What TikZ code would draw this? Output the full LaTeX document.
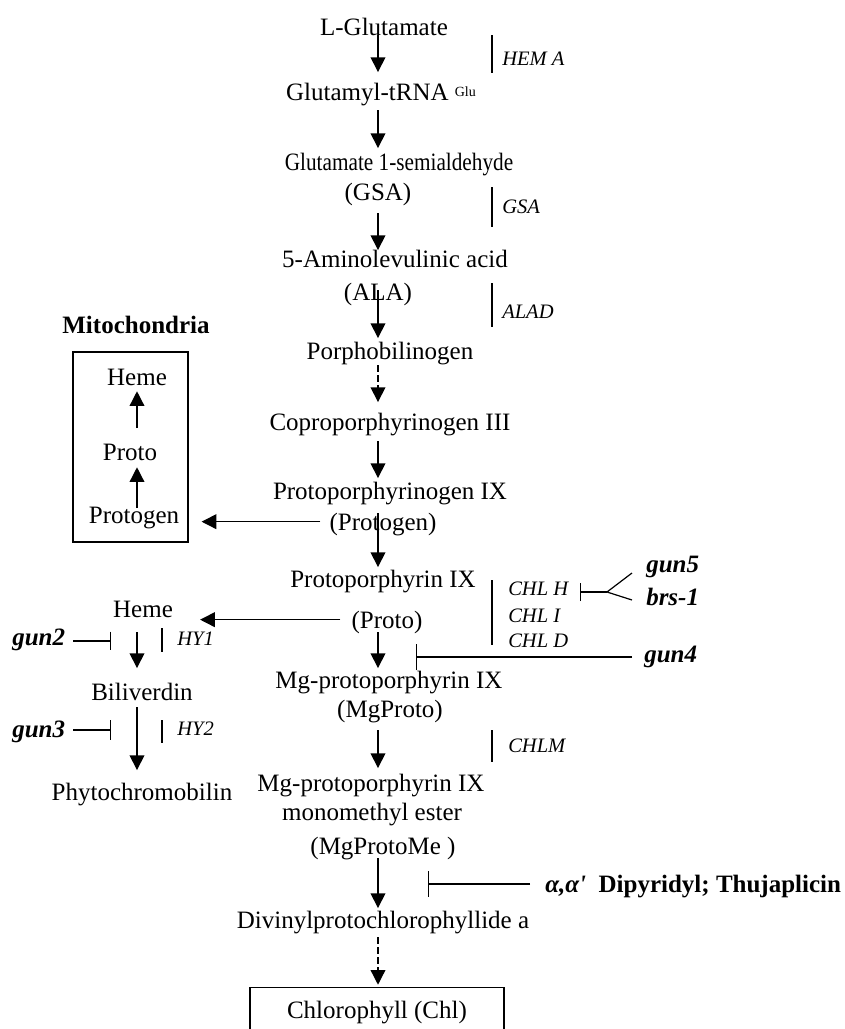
\documentclass[tikz,border=0pt]{standalone}
\usepackage{fontspec}
\setmainfont{Liberation Serif}
\usetikzlibrary{arrows.meta, calc}

\newcommand{\mainsize}{\fontsize{18.75}{22}\selectfont}
\newcommand{\genesize}{\fontsize{15.4}{18}\selectfont}

\begin{document}
\begin{tikzpicture}[
                x=0.75pt, y=-0.75pt,
                >={Triangle[length=11pt, width=11pt]},
                compound/.style={font=\mainsize, anchor=base, inner sep=0pt, text height=12.5pt, text depth=0pt},
                gene/.style={font=\genesize\itshape, anchor=base west, inner sep=0pt},
                mutant/.style={font=\mainsize\bfseries\itshape, anchor=base west, inner sep=0pt, text height=12.5pt, text depth=0pt},
                pathway/.style={->, line width=1pt},
                dashstep/.style={->, line width=1pt, dash pattern=on 5pt off 2.5pt},
                inhibit/.style={-{Bar[width=#1]}, line width=0.9pt},
                inhibit/.default=15pt,
                enzbar/.style={line width=0.9pt},
            ]
                \useasboundingbox (0,0) rectangle (844,1029);

                % Main pathway, one node per line of text
                \node[compound] (Glu) at (384,35) {L-Glutamate};
                \node[compound] (tRNA) at (381,100) {Glutamyl-tRNA \raisebox{2.6pt}{\fontsize{10.5}{12}\selectfont Glu}};
                \node[compound] (GSA) at (399,170) {\scalebox{0.85}[1]{Glutamate 1-semialdehyde}};
                \node[compound] (GSAab) at (378,200) {(GSA)};
                \node[compound] (ALA) at (395,267) {5-Aminolevulinic acid};
                \node[compound] (ALAab) at (378,300) {(ALA)};
                \node[compound] (PBG) at (390,359) {Porphobilinogen};
                \node[compound] (Copro) at (390,430) {Coproporphyrinogen III};
                \node[compound] (Protogen) at (390,499) {Protoporphyrinogen IX};
                \node[compound] (ProtogenAb) at (383,530) {(Protogen)};
                \node[compound] (Proto) at (383,587) {Protoporphyrin IX};
                \node[compound] (ProtoAb) at (387,628) {(Proto)};
                \node[compound] (MgProto) at (389,688) {Mg-protoporphyrin IX};
                \node[compound] (MgProtoAb) at (390,717) {(MgProto)};
                \node[compound] (MgProtoMe) at (371,791) {Mg-protoporphyrin IX};
                \node[compound] (MgProtoMeB) at (372,820) {monomethyl ester};
                \node[compound] (MgProtoMeAb) at (383,854) {(MgProtoMe )};
                \node[compound] (DVPchlide) at (383,928) {Divinylprotochlorophyllide a};
                \node[compound, draw, line width=0.9pt, minimum width=190.5pt, inner ysep=10.5pt] (Chl) at (377,1018) {Chlorophyll (Chl)};

                % Mitochondria
                \node[font=\mainsize\bfseries, anchor=base, inner sep=0pt] (mitolabel) at (136,333) {Mitochondria};
                \node[draw, line width=0.9pt, minimum width=86.25pt, minimum height=142.5pt, inner sep=0pt] (mitobox) at (130.5,447) {};
                \node[compound] (mHeme) at (137,385) {Heme};
                \node[compound] (mProto) at (130,460) {Proto};
                \node[compound] (mProtogen) at (134,523) {Protogen};

                % Heme branch
                \node[compound] (hemeL) at (143,617) {Heme};
                \node[compound] (bili) at (142,700) {Biliverdin};
                \node[compound] (phyto) at (142,800) {Phytochromobilin};
                \node[mutant] (gun2) at (12,645) {gun2};
                \node[mutant] (gun3) at (12,737) {gun3};
                \node[gene] (HYone) at (177,645) {HY1};
                \node[gene] (HYtwo) at (177,735) {HY2};

                % Enzymes
                \node[gene] (hemA) at (502,65) {HEM A};
                \node[gene] (gsaE) at (502,213) {GSA};
                \node[gene] (alad) at (502,318) {ALAD};
                \node[gene] (chlH) at (508,595) {CHL H};
                \node[gene] (chlI) at (508,622) {CHL I};
                \node[gene] (chlD) at (508,647) {CHL D};
                \node[gene] (chlM) at (508,752) {CHLM};

                % Mutants and inhibitors
                \node[mutant] (gun5) at (646,572) {gun5};
                \node[mutant] (brs1) at (646,605) {brs-1};
                \node[mutant] (gun4) at (644,662) {gun4};
                \node[font=\mainsize\bfseries, anchor=base west, inner sep=0pt] (dipy) at (545,892) {\textit{α,α\textquotesingle}\ \ Dipyridyl; Thujaplicin};

                \coordinate (axis) at (378,0);
                \coordinate (leftaxis) at (137,0);
                \coordinate (fork) at (607,592);
                \coordinate (chlHbar) at (580,592);
                \coordinate (gun4bar) at (416,657);
                \coordinate (gun2bar) at (111,641);
                \coordinate (gun3bar) at (111,730);
                \coordinate (dipybar) at (428,884);

                % Steps down the main column
                \foreach \a/\b/\s/\e in {Glu/tRNA/0pt/8.25pt, tRNA/GSA/7.5pt/3.75pt, GSAab/ALA/9.75pt/0pt,
                        ALAab/PBG/-7.5pt/3pt, Copro/Protogen/8.25pt/3pt, ProtogenAb/Proto/-12.75pt/2.25pt,
                        ProtoAb/MgProto/3pt/2.25pt, MgProtoAb/MgProtoMe/9.75pt/4.5pt, MgProtoMeAb/DVPchlide/3pt/2.25pt}
                    \draw[pathway, shorten <=\s, shorten >=\e] (\a.south -| axis) -- (\b.north -| axis);
                \draw[dashstep, shorten <=4.5pt, shorten >=8.25pt] (PBG.south -| axis) -- (Copro.north -| axis);
                \draw[dashstep, shorten <=6.75pt, shorten >=1.5pt] (DVPchlide.south -| axis) -- (Chl.north -| axis);

                % Inside the mitochondria
                \draw[pathway, shorten <=-1.5pt, shorten >=5.25pt] (mProtogen.north -| mHeme) -- (mProto.south -| mHeme);
                \draw[pathway, shorten <=11.25pt, shorten >=4.5pt] (mProto.north -| mHeme) -- (mHeme.south);

                % Heme branch steps
                \draw[pathway, shorten <=11.25pt, shorten >=11.25pt] (hemeL.south -| leftaxis) -- (bili.north -| leftaxis);
                \draw[pathway, shorten <=5.25pt, shorten >=9.75pt] (bili.south -| leftaxis) -- (phyto.north -| leftaxis);

                % Side branches
                \draw[pathway, shorten <=6.75pt, shorten >=9.75pt] (ProtogenAb.west) -- (ProtogenAb.west -| mitobox.east);
                \draw[pathway, shorten <=8.25pt, shorten >=20.25pt] (ProtoAb.west) -- (ProtoAb.west -| hemeL.east);

                % Inhibitions
                \draw[inhibit=14pt, shorten <=6pt] (gun2.east |- gun2bar) -- (gun2bar);
                \draw[inhibit=15pt, shorten <=6pt] (gun3.east |- gun3bar) -- (gun3bar);
                \draw[inhibit=20pt, shorten <=9pt] (gun4.west |- gun4bar) -- (gun4bar);
                \draw[inhibit=19pt, shorten <=11.25pt] (dipy.west |- dipybar) -- (dipybar);
                \draw[inhibit=13.5pt] (fork) -- (chlHbar);
                \draw[line width=0.9pt] ($(gun5.base west)+(-14,1)$) -- (fork) -- ($(brs1.base west)+(-14,-5)$);

                % Enzyme bars
                \foreach \x/\ya/\yb in {492/35/73, 492/187/227, 492/283/327, 492/580/645, 492/730/762, 162/628/652, 162/720/743}
                    \draw[enzbar] (\x,\ya) -- (\x,\yb);
            \end{tikzpicture}
\end{document}
